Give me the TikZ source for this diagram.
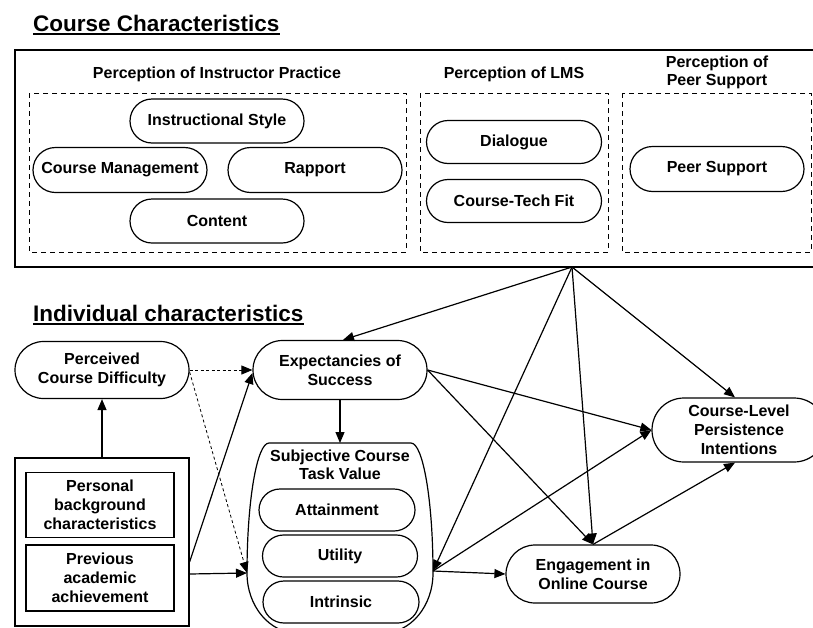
\documentclass[tikz,border=0pt]{standalone}
\usepackage{fontspec}
\setmainfont{Liberation Sans}
\usepackage{tikz}
\usetikzlibrary{arrows.meta,shapes.misc,positioning}

\begin{document}
\begin{tikzpicture}[x=1pt,y=-1pt,
  every node/.style={font=\bfseries\fontsize{16}{19}\selectfont, align=center},
  pill/.style={rounded rectangle, draw, line width=1.2pt, inner sep=0pt, minimum width=174pt, minimum height=44pt},
  subpill/.style={pill, minimum width=156pt, minimum height=42pt},
  plainbox/.style={rectangle, draw, line width=1.2pt, inner sep=0pt, minimum width=148pt, minimum height=65pt},
  group/.style={draw, line width=1pt, dash pattern=on 5pt off 4pt},
  heading/.style={anchor=base west, inner sep=0pt, font=\bfseries\fontsize{22.5}{26}\selectfont},
  link/.style={-{Triangle[length=11pt,width=9pt]}, line width=1.2pt},
  hint/.style={link, line width=0.8pt, dash pattern=on 3pt off 2.5pt}]
\useasboundingbox (0,0) rectangle (813,627);
\clip (0,0) rectangle (813,627);

% course characteristics
\node[heading] (ctitle) at (33,31) {Course Characteristics};
\draw[line width=2pt] ([yshift=-3pt]ctitle.base west) -- ([yshift=-3pt]ctitle.base east);
\draw[line width=1.3pt] (820,50) -- (15,50) -- (15,267) -- (820,267);
\coordinate (hub) at (572,267);

\node[anchor=base] (instrlabel) at (217,78) {Perception of Instructor Practice};
\node[anchor=base] (lmslabel) at (514,78) {Perception of LMS};
\node[anchor=base, font=\bfseries\fontsize{16}{18}\selectfont] (peerlabel) at (717,85) {Perception of\\Peer Support};
\draw[group] (29,93) rectangle (406,252);
\draw[group] (420,93) rectangle (608,252);
\draw[group] (622,93) rectangle (811,252);

\node[pill] (style) at (217,121) {Instructional Style};
\node[pill, minimum height=45pt] (manage) at (120,170) {Course Management};
\node[pill, minimum height=45pt] (rapport) at (315,170) {Rapport};
\node[pill] (content) at (217,221) {Content};
\node[pill, minimum width=175pt, minimum height=43pt] (dialogue) at (514,142) {Dialogue};
\node[pill, minimum width=175pt, minimum height=43pt] (techfit) at (514,201) {Course-Tech Fit};
\node[pill, minimum height=45pt] (peer) at (717,169) {Peer Support};

% individual characteristics
\node[heading] (ititle) at (33,321) {Individual characteristics};
\draw[line width=2pt] ([yshift=-3pt]ititle.base west) -- ([yshift=-3pt]ititle.base east);

\node[pill, minimum height=57pt] (perc) at (102,370) {Perceived\\Course Difficulty};
\node[rectangle, draw, line width=1.2pt, inner sep=0pt, minimum width=174pt, minimum height=168pt] (indiv) at (102,542) {};
\node[plainbox] (personal) at (100,505) {Personal\\background\\characteristics};
\node[plainbox, minimum height=66pt] (previous) at (100,578) {Previous\\academic\\achievement};

\node[pill, minimum height=59pt] (exp) at (340,370) {Expectancies of\\Success};

\draw[line width=1.2pt] (269,443) -- (411,443)
  arc[start angle=-90, end angle=0, x radius=22, y radius=130]
  arc[start angle=0, end angle=90, x radius=50, y radius=60] -- (297,633)
  arc[start angle=90, end angle=180, x radius=50, y radius=60]
  arc[start angle=180, end angle=270, x radius=22, y radius=130] -- cycle;
\coordinate (subjT) at (340,443);
\coordinate (subjL) at (247,573);
\coordinate (subjR) at (433,571);
\node[anchor=base, font=\bfseries\fontsize{16}{17.5}\selectfont] (subjlabel) at (340,479) {Subjective Course\\Task Value};
\node[subpill] (attain) at (337,510) {Attainment};
\node[subpill, minimum width=155pt] (utility) at (340,556) {Utility};
\node[subpill] (intrinsic) at (341,602) {Intrinsic};

\node[pill, minimum height=64pt] (persist) at (739,430) {Course-Level\\Persistence\\Intentions};
\node[pill, minimum height=58pt] (engage) at (593,574) {Engagement in\\Online Course};

% paths
\draw[link] (indiv) -- (perc);
\draw[hint] (perc.east) -- (exp.west);
\draw[hint] ([yshift=-2pt]perc.east) -- (subjL);
\draw[link] ([yshift=-20pt]indiv.east) -- ([yshift=-3pt]exp.west);
\draw[link] ([yshift=-32pt]indiv.east) -- (subjL);
\draw[link] (exp) -- (subjT);
\draw[link] (hub) -- ([xshift=3pt]exp.north);
\draw[link] (hub) -- (subjR);
\draw[link] (hub) -- (engage.north);
\draw[link] (hub) -- ([xshift=-4pt]persist.north);
\draw[link] (exp.east) -- (persist.west);
\draw[link] (exp.east) -- (engage.north);
\draw[link] (subjR) -- (persist.west);
\draw[link] (subjR) -- (engage.west);
\draw[link] (engage.north) -- ([xshift=-4pt]persist.south);
\end{tikzpicture}
\end{document}
